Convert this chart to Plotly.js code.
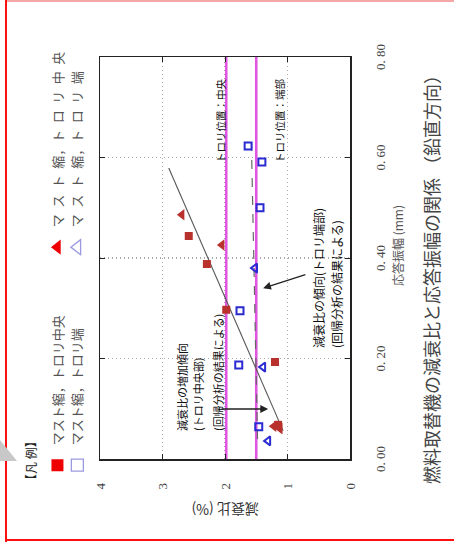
<!DOCTYPE html>
<html>
<head>
<meta charset="utf-8">
<script src="https://cdn.plot.ly/plotly-3.0.1.min.js"></script>
<style>
  html, body { margin:0; padding:0; background:#fff; overflow:hidden; width:454px; height:546px; }
  #wrap { position:absolute; left:0; top:0; width:454px; height:546px; overflow:hidden; }
  #chart { position:absolute; left:0; top:0; width:546px; height:454px;
           transform-origin:0 0; transform:translate(0px,546px) rotate(-90deg); }
  #frameL { position:absolute; left:5px; top:0; width:2px; height:542px; background:#ff1010; }
  #frameB { position:absolute; left:5px; top:539px; width:460px; height:2px; background:#ff1010; }
  #frameT { position:absolute; left:5px; top:0; width:460px; height:2px; background:#f6a8a8; }
  #tri { position:absolute; left:0; top:440px; width:17px; height:21px; background:#c8c8c8;
         clip-path: polygon(0 0, 100% 100%, 0 100%); }
</style>
</head>
<body>
<div id="wrap">
  <div id="chart"></div>
  <div id="frameT"></div>
  <div id="frameL"></div>
  <div id="frameB"></div>
  <div id="tri"></div>
</div>
<script>
// ---- data (response amplitude in mm, damping ratio in %) ----
const ampCenterSq   = [0.444, 0.388, 0.297, 0.193, 0.068];
const dampCenterSq  = [2.58, 2.29, 1.98, 1.20, 1.15];
const ampCenterTri  = [0.486, 0.426, 0.065, 0.060];
const dampCenterTri = [2.69, 2.05, 1.22, 1.12];
const ampEndSq      = [0.623, 0.591, 0.500, 0.295, 0.187, 0.064];
const dampEndSq     = [1.63, 1.41, 1.44, 1.76, 1.78, 1.46];
const ampEndTri     = [0.380, 0.183, 0.036];
const dampEndTri    = [1.52, 1.39, 1.31];
// regression lines
const fitCenterAmp  = [0.056, 0.579];
const fitCenterDamp = [1.07, 2.90];
const fitEndAmp     = [0.040, 0.645];
const fitEndDamp    = [1.48, 1.58];
// reference levels (magenta)
const refLevels = [1.98, 1.50];
// ticks
const xTickVals = [0, 0.2, 0.4, 0.6, 0.8];
const xTickText = ['0. 00', '0. 20', '0. 40', '0. 60', '0. 80'];
const yTickVals = [0, 1, 2, 3, 4];
const yTickText = ['0', '1', '2', '3', '4'];
// labels
const legendNames = ['マスト縮，トロリ中央', 'マ\u2002ス\u2002ト\u2002縮，ト\u2002ロ\u2002リ\u2002中\u2002央',
                     'マスト縮，トロリ端', 'マ\u2002ス\u2002ト\u2002縮，ト\u2002ロ\u2002リ\u2002端'];

const JP = '"Noto Sans CJK JP", "Noto Sans", sans-serif';
const SERIF = '"Liberation Serif", "DejaVu Serif", serif';
const RED = '#b8312c', BLUE = '#2a2ad2', MAG = '#e056e0';

const traces = [
  // magenta reference lines
  ...refLevels.map(v => ({x:[0, 0.8], y:[v, v], mode:'lines', line:{color:MAG, width:2.6},
    showlegend:false, hoverinfo:'skip'})),
  {x: fitEndAmp, y: fitEndDamp, mode:'lines', line:{color:'#666', width:1.2, dash:'dash'}, showlegend:false},
  {x: fitCenterAmp, y: fitCenterDamp, mode:'lines', line:{color:'#555', width:1.1}, showlegend:false},
  {x: ampCenterSq, y: dampCenterSq, mode:'markers', marker:{symbol:'square', size:8, color:RED}, showlegend:false},
  {x: ampCenterTri, y: dampCenterTri, mode:'markers', marker:{symbol:'triangle-up', size:10, color:RED}, showlegend:false},
  {x: ampEndSq, y: dampEndSq, mode:'markers', marker:{symbol:'square-open', size:7, color:BLUE, line:{width:2}}, showlegend:false},
  {x: ampEndTri, y: dampEndTri, mode:'markers', marker:{symbol:'triangle-up-open', size:8, color:BLUE, line:{width:2}}, showlegend:false},
  // legend entries
  {x:[null], y:[null], mode:'markers', name:legendNames[0], marker:{symbol:'square', size:12, color:'#ee0000'}},
  {x:[null], y:[null], mode:'markers', name:legendNames[1], marker:{symbol:'triangle-up', size:13, color:'#ee0000'}},
  {x:[null], y:[null], mode:'markers', name:legendNames[2], marker:{symbol:'square-open', size:12, color:'#9a9ae0', line:{width:1.3}}},
  {x:[null], y:[null], mode:'markers', name:legendNames[3], marker:{symbol:'triangle-up-open', size:13, color:'#9a9ae0', line:{width:1.3}}}
];

function note(text, x, y, size, extra) {
  return Object.assign({text:text, x:x, y:y, xref:'x', yref:'y', showarrow:false,
    xanchor:'left', yanchor:'middle', font:{family:JP, size:size, color:'#111'}}, extra || {});
}

const annotations = [
  note('減衰比の増加傾向', 0.052, 2.69, 11),
  note('(トロリ中央部)', 0.052, 2.43, 11),
  note('(回帰分析の結果による)', 0.052, 2.11, 11),
  note('減衰比の傾向(トロリ端部)', 0.217, 0.50, 12),
  note('(回帰分析の結果による)', 0.217, 0.22, 12),
  note('トロリ位置：中央', 0.585, 2.07, 10.5),
  note('トロリ位置：端部', 0.585, 1.13, 10.5),
  {x:0.0995, y:1.31, ax:0.0995, ay:2.08, axref:'x', ayref:'y', xref:'x', yref:'y', text:'',
   showarrow:true, arrowhead:2, arrowsize:1.2, arrowwidth:1.3, arrowcolor:'#222'},
  {x:0.340, y:1.39, ax:0.368, ay:0.69, axref:'x', ayref:'y', xref:'x', yref:'y', text:'',
   showarrow:true, arrowhead:2, arrowsize:1.2, arrowwidth:1.3, arrowcolor:'#222'},
  {text:'【凡 例】', xref:'paper', yref:'paper', x:-0.072, y:1.28, xanchor:'left', yanchor:'middle',
   showarrow:false, font:{family:JP, size:12, color:'#222'}},
  {text:'応答振幅 (mm)', xref:'paper', yref:'paper', x:0.53, y:-0.19, xanchor:'center', yanchor:'middle',
   showarrow:false, font:{family:JP, size:12, color:'#555'}},
  {text:'減衰比 (%)', xref:'paper', yref:'paper', x:-0.127, y:0.5, xanchor:'center', yanchor:'middle',
   textangle:-90, showarrow:false, font:{family:JP, size:14, color:'#333'}},
  {text:'燃料取替機の減衰比と応答振幅の関係 （鉛直方向）', xref:'paper', yref:'paper', x:0.458, y:-0.324,
   xanchor:'center', yanchor:'middle', showarrow:false, font:{family:JP, size:18, color:'#444'}}
];

const layout = {
  width:546, height:454, autosize:false,
  margin:{l:87, r:57, t:100, b:104, pad:0},
  paper_bgcolor:'#fff', plot_bgcolor:'#fff',
  showlegend:true,
  legend:{orientation:'h', x:-0.065, y:1.23, xanchor:'left', yanchor:'top',
          entrywidth:173, entrywidthmode:'pixels', traceorder:'normal',
          font:{family:JP, size:13, color:'#555'}, bgcolor:'rgba(0,0,0,0)'},
  xaxis:{range:[0, 0.8], tickvals:xTickVals, ticktext:xTickText, showline:true, mirror:'ticks',
         linecolor:'#222', linewidth:1.5, ticks:'inside', ticklen:5, tickcolor:'#222',
         showgrid:true, gridcolor:'#aaa', griddash:'1px,3px', gridwidth:1.2, zeroline:false,
         ticklabelstandoff:18, tickfont:{family:SERIF, size:13, color:'#444'}},
  yaxis:{range:[0, 4], tickvals:yTickVals, ticktext:yTickText, showline:true, mirror:'ticks',
         linecolor:'#222', linewidth:1.5, ticks:'inside', ticklen:5, tickcolor:'#222',
         showgrid:true, gridcolor:'#aaa', griddash:'1px,3px', gridwidth:1.2, zeroline:false,
         ticklabelstandoff:20, tickfont:{family:SERIF, size:13, color:'#444'}},
  annotations: annotations
};

Plotly.newPlot('chart', traces, layout, {staticPlot:true, displayModeBar:false});
</script>
</body>
</html>
